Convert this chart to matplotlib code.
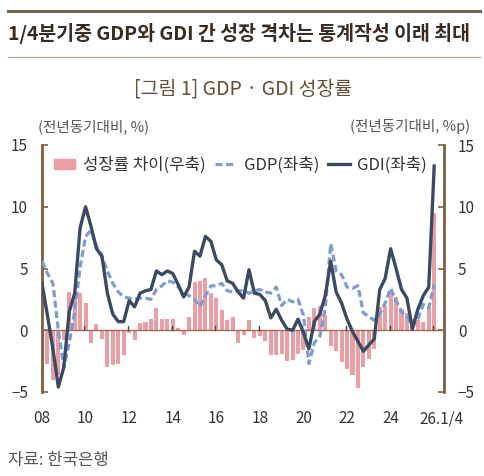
import numpy as np
import matplotlib
matplotlib.use("Agg")
import matplotlib.pyplot as plt
from matplotlib.lines import Line2D
from matplotlib.patches import Patch

plt.rcParams['font.family'] = ['Noto Sans CJK KR', 'DejaVu Sans']
plt.rcParams['axes.unicode_minus'] = True

# 2008Q1 ~ 2026Q1, year-on-year growth (%)
gdp = [5.6, 4.6, 3.8, 0.0, -3.0, -1.0, 1.5, 5.1, 7.6, 8.1, 6.8, 6.0, 4.8, 3.8, 3.1, 2.7,
       2.6, 2.5, 2.6, 2.6, 2.5, 3.3, 3.6, 4.0, 3.9, 3.5, 3.0, 2.8, 2.5, 1.9, 2.8, 3.6,
       3.6, 3.8, 3.2, 3.1, 3.2, 3.2, 3.0, 3.2, 3.3, 3.1, 3.0, 3.5, 2.0, 2.5, 2.3, 2.5,
       1.2, -2.7, -1.0, -0.5, 1.8, 7.0, 4.8, 4.5, 3.5, 3.4, 3.6, 1.4, 1.1, 0.8, 1.3, 2.2,
       3.4, 2.4, 1.5, 1.1, 0.3, 0.9, 2.1, 1.8, 3.7]
gdi = [3.8, 1.2, -1.5, -4.6, -3.0, 1.5, 3.0, 8.3, 10.0, 8.4, 6.6, 6.0, 3.0, 1.3, 0.7, 0.7,
       2.4, 1.9, 3.0, 3.2, 3.3, 4.8, 4.5, 4.8, 4.6, 3.7, 2.7, 3.5, 6.4, 6.0, 7.6, 7.2,
       5.7, 5.3, 4.0, 3.8, 3.1, 2.6, 4.9, 3.0, 2.9, 2.4, 1.0, 1.7, 0.8, 0.1, 0.0, 0.9,
       -0.2, -1.5, 0.7, 1.3, 2.8, 5.6, 3.1, 2.2, 0.9, -0.1, -0.9, -1.7, -1.2, -0.7, 3.3, 4.2,
       6.6, 5.0, 3.3, 2.6, 0.1, 1.7, 2.8, 3.5, 13.3]
gap = [-2.3, -2.7, -4.0, -3.6, -0.8, 3.1, 3.0, 3.0, 2.2, -1.0, 0.5, -0.7, -3.0, -2.8, -2.7, -2.0,
       -0.2, -0.8, 0.6, 0.7, 0.9, 1.8, 0.9, 0.9, 0.9, 0.2, -0.4, 1.1, 3.9, 4.0, 4.2, 3.0,
       2.6, 1.6, 0.8, 1.1, -1.0, -0.4, 0.8, -0.6, -0.5, -0.9, -2.0, -2.0, -1.9, -2.5, -2.4, -1.9,
       -1.6, 1.1, 1.8, 2.0, 1.2, -1.3, -1.7, -2.6, -3.1, -3.6, -4.7, -3.0, -2.3, -1.5, 1.9, 2.0,
       3.2, 2.7, 1.7, 1.4, 0.9, 0.8, 0.7, 1.8, 9.5]
year_labels = ["08", "10", "12", "14", "16", "18", "20", "22", "24", "26.1/4"]

brown = "#7d5f3f"
bar_color = "#eb9ea4"
gdp_color = "#7d9cd1"
gdi_color = "#3b4a63"
x = np.arange(len(gdp))

fig = plt.figure(figsize=(4.84, 4.76), dpi=100)
ax = fig.add_axes([42 / 484, 1 - 392 / 476, 402 / 484, 247 / 476])
ax2 = ax.twinx()

# bars on the right axis, kept underneath the lines
ax2.bar(x, gap, width=0.74, color=bar_color, zorder=1)
ax.set_zorder(ax2.get_zorder() + 1)
ax.patch.set_visible(False)

ax.axhline(0, color="#a06a55", lw=1.0, zorder=2)
for k in range(8, len(x), 8):
    ax.plot([k - 0.2, k - 0.2], [0, 0.35], color="#5a4530", lw=1.0, zorder=2)

ax.plot(x, gdp, color=gdp_color, lw=2.3, dashes=(2.2, 1.1), zorder=3)
ax.plot(x, gdi, color=gdi_color, lw=2.4, solid_joinstyle="round", zorder=4)

for a in (ax, ax2):
    a.set_ylim(-5, 15)
    a.set_xlim(0, 73.8)
    a.set_yticks([-5, 0, 5, 10, 15])
    for s in ("top", "bottom"):
        a.spines[s].set_visible(False)
ax.spines["right"].set_visible(False)
ax2.spines["left"].set_visible(False)
ax.spines["left"].set_color(brown)
ax.spines["left"].set_linewidth(2)
ax2.spines["right"].set_color(brown)
ax2.spines["right"].set_linewidth(2)
for a in (ax, ax2):
    a.tick_params(axis="y", direction="in", length=4, width=1.2, color=brown,
                  pad=10, labelsize=11, labelcolor="#333333")

xpos = [8 * k for k in range(len(year_labels) - 1)] + [73.3]
ax.set_xticks(xpos)
ax.set_xticklabels(year_labels)
ax.tick_params(axis="x", length=0, pad=13, labelsize=11, labelcolor="#333333")
ax2.tick_params(axis="x", length=0)

handles = [Patch(color=bar_color),
           Line2D([], [], color=gdp_color, lw=2.3, dashes=(2.2, 1.1)),
           Line2D([], [], color=gdi_color, lw=2.4)]
labels = ["성장률 차이(우축)", "GDP(좌축)", "GDI(좌축)"]
ax.legend(handles, labels, loc="upper left", bbox_to_anchor=(0.0, 1.0), ncol=3,
          frameon=False, fontsize=12, handlelength=1.3, handleheight=0.6,
          handletextpad=0.45, columnspacing=0.55, borderaxespad=0.3,
          labelcolor="#333333")

# header / footer
fig.add_artist(Line2D([8 / 484, 480 / 484], [1 - 11 / 476] * 2, color="#7a6650", lw=2.2))
fig.add_artist(Line2D([8 / 484, 480 / 484], [1 - 57 / 476] * 2, color="#b5a794", lw=0.9))
fig.text(8 / 484, 1 - 34 / 476, "1/4분기중 GDP와 GDI 간 성장 격차는 통계작성 이래 최대",
         fontsize=14, fontweight="bold", color="#3b2a1e", va="center", ha="left")
fig.text(243 / 484, 1 - 89 / 476, "[그림 1] GDP · GDI 성장률",
         fontsize=14, color="#6a4c33", va="center", ha="center")
fig.text(38 / 484, 1 - 127 / 476, "(전년동기대비, %)",
         fontsize=10.5, color="#555555", va="center", ha="left")
fig.text(470 / 484, 1 - 127 / 476, "(전년동기대비, %p)",
         fontsize=10.5, color="#555555", va="center", ha="right")
fig.text(8 / 484, 1 - 460 / 476, "자료: 한국은행",
         fontsize=12, color="#555555", va="center", ha="left")

fig.savefig("out.png", dpi=100)
